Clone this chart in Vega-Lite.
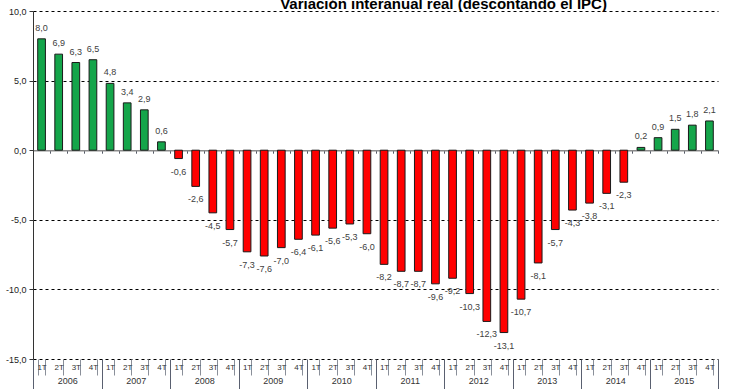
{
  "$schema": "https://vega.github.io/schema/vega-lite/v6.json",
  "width": 685,
  "height": 348,
  "autosize": {"type": "none"},
  "padding": {"left": 33, "top": 11, "right": 22, "bottom": 30},
  "background": "#ffffff",
  "config": {
    "locale": {"number": {"decimal": ",", "thousands": ".", "grouping": [3], "currency": ["", " €"], "minus": "-"}},
    "view": {"stroke": null},
    "font": "Liberation Sans"
  },
  "title": {
    "text": "Variación interanual real (descontando el IPC)",
    "fontSize": 15,
    "fontWeight": "bold",
    "font": "Liberation Sans",
    "color": "#000000",
    "anchor": "middle",
    "dx": 68,
    "baseline": "alphabetic",
    "offset": -17
  },
  "data": {
    "values": [
      {"id": "2006-1T", "year": "2006", "v": 8.0},
      {"id": "2006-2T", "year": "2006", "v": 6.9},
      {"id": "2006-3T", "year": "2006", "v": 6.3},
      {"id": "2006-4T", "year": "2006", "v": 6.5},
      {"id": "2007-1T", "year": "2007", "v": 4.8},
      {"id": "2007-2T", "year": "2007", "v": 3.4},
      {"id": "2007-3T", "year": "2007", "v": 2.9},
      {"id": "2007-4T", "year": "2007", "v": 0.6},
      {"id": "2008-1T", "year": "2008", "v": -0.6},
      {"id": "2008-2T", "year": "2008", "v": -2.6},
      {"id": "2008-3T", "year": "2008", "v": -4.5},
      {"id": "2008-4T", "year": "2008", "v": -5.7},
      {"id": "2009-1T", "year": "2009", "v": -7.3},
      {"id": "2009-2T", "year": "2009", "v": -7.6},
      {"id": "2009-3T", "year": "2009", "v": -7.0},
      {"id": "2009-4T", "year": "2009", "v": -6.4},
      {"id": "2010-1T", "year": "2010", "v": -6.1},
      {"id": "2010-2T", "year": "2010", "v": -5.6},
      {"id": "2010-3T", "year": "2010", "v": -5.3},
      {"id": "2010-4T", "year": "2010", "v": -6.0},
      {"id": "2011-1T", "year": "2011", "v": -8.2},
      {"id": "2011-2T", "year": "2011", "v": -8.7},
      {"id": "2011-3T", "year": "2011", "v": -8.7},
      {"id": "2011-4T", "year": "2011", "v": -9.6},
      {"id": "2012-1T", "year": "2012", "v": -9.2},
      {"id": "2012-2T", "year": "2012", "v": -10.3},
      {"id": "2012-3T", "year": "2012", "v": -12.3},
      {"id": "2012-4T", "year": "2012", "v": -13.1},
      {"id": "2013-1T", "year": "2013", "v": -10.7},
      {"id": "2013-2T", "year": "2013", "v": -8.1},
      {"id": "2013-3T", "year": "2013", "v": -5.7},
      {"id": "2013-4T", "year": "2013", "v": -4.3},
      {"id": "2014-1T", "year": "2014", "v": -3.8},
      {"id": "2014-2T", "year": "2014", "v": -3.1},
      {"id": "2014-3T", "year": "2014", "v": -2.3},
      {"id": "2014-4T", "year": "2014", "v": 0.2},
      {"id": "2015-1T", "year": "2015", "v": 0.9},
      {"id": "2015-2T", "year": "2015", "v": 1.5},
      {"id": "2015-3T", "year": "2015", "v": 1.8},
      {"id": "2015-4T", "year": "2015", "v": 2.1}
    ]
  },
  "layer": [
    {
      "layer": [
        {
          "mark": {"type": "bar", "stroke": "#1a1a1a", "strokeWidth": 1},
          "encoding": {
            "x": {
              "field": "id",
              "type": "nominal",
              "scale": {"paddingInner": 0.55, "paddingOuter": 0.275},
              "axis": {
                "orient": "bottom",
                "title": null,
                "domain": false,
                "tickBand": "extent",
                "tickSize": 16,
                "tickColor": "#8a8f99",
                "labelPadding": -12,
                "labelAngle": 0,
                "labelFontSize": 8,
                "labelColor": "#333333",
                "labelOverlap": false,
                "labelExpr": "slice(datum.label, 5)"
              }
            },
            "y": {
              "field": "v",
              "type": "quantitative",
              "scale": {"domain": [-15, 10], "nice": false, "zero": false},
              "axis": {
                "title": null,
                "values": [-15, -10, -5, 0, 5, 10],
                "format": ".1f",
                "labelFontSize": 9,
                "labelColor": "#222222",
                "labelPadding": 3,
                "tickSize": 4,
                "tickColor": "#333333",
                "domainColor": "#333333",
                "grid": true,
                "gridColor": "#000000",
                "gridDash": [3, 3],
                "gridOpacity": {"condition": {"test": "datum.value === 0", "value": 0}, "value": 1}
              }
            },
            "color": {
              "condition": {"test": "datum.v >= 0", "value": "#14a54a"},
              "value": "#ff0000"
            }
          }
        },
        {
          "transform": [{"filter": "datum.v >= 0"}],
          "mark": {"type": "text", "baseline": "alphabetic", "dy": -8, "fontSize": 9, "color": "#404040"},
          "encoding": {
            "x": {"field": "id", "type": "nominal"},
            "y": {"field": "v", "type": "quantitative"},
            "text": {"field": "v", "type": "quantitative", "format": ".1f"}
          }
        },
        {
          "transform": [{"filter": "datum.v < 0"}],
          "mark": {"type": "text", "baseline": "top", "dy": 9, "fontSize": 9, "color": "#404040"},
          "encoding": {
            "x": {"field": "id", "type": "nominal"},
            "y": {"field": "v", "type": "quantitative"},
            "text": {"field": "v", "type": "quantitative", "format": ".1f"}
          }
        }
      ]
    },
    {
      "mark": {"type": "bar", "opacity": 0},
      "encoding": {
        "x": {
          "field": "id",
          "type": "nominal",
          "scale": {"paddingInner": 0, "paddingOuter": 0},
          "axis": {
            "orient": "top",
            "offset": -139.2,
            "title": null,
            "labels": false,
            "tickBand": "extent",
            "tickSize": -3,
            "tickColor": "#555a66",
            "domainColor": "#8c8c8c",
            "domainWidth": 1.5
          }
        }
      }
    },
    {
      "mark": {"type": "bar", "opacity": 0},
      "encoding": {
        "x": {
          "field": "year",
          "type": "nominal",
          "scale": {"paddingInner": 0, "paddingOuter": 0},
          "axis": {
            "orient": "bottom",
            "title": null,
            "domain": false,
            "tickBand": "extent",
            "tickSize": 34,
            "tickColor": "#5a6070",
            "labelPadding": -17,
            "labelAngle": 0,
            "labelFontSize": 9,
            "labelColor": "#333333",
            "labelOverlap": false
          }
        }
      }
    }
  ],
  "resolve": {"scale": {"x": "independent"}}
}
